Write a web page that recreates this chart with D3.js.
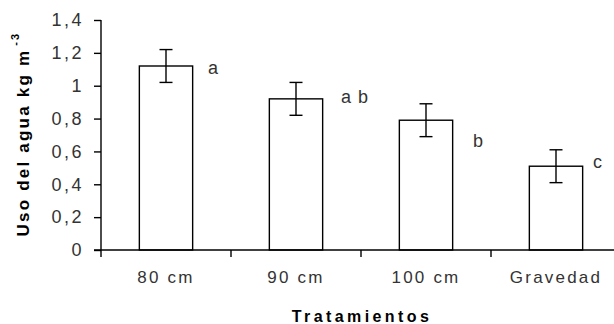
<!DOCTYPE html>
<html>
<head>
<meta charset="utf-8">
<script src="https://cdn.jsdelivr.net/npm/d3@7"></script>
<style>
  html, body { margin: 0; padding: 0; background: #fff; }
  svg { display: block; }
</style>
</head>
<body>
<svg id="chart" width="614" height="324"></svg>
<script>
// ---- data ----
const categories = ["80 cm", "90 cm", "100 cm", "Gravedad"];
const values = [1.12, 0.92, 0.79, 0.51];
const errors = [0.10, 0.10, 0.10, 0.10];
const letters = ["a", "a b", "b", "c"];
const letterLevel = [1.07, 0.895, 0.625, 0.50];
const yTicks = [0, 0.2, 0.4, 0.6, 0.8, 1, 1.2, 1.4];
const yTickLabels = ["0", "0,2", "0,4", "0,6", "0,8", "1", "1,2", "1,4"];

// ---- layout ----
const svg = d3.select("#chart");
const mLeft = 101, mRight = 621, mTop = 20, mBottom = 250;
const font = "'Liberation Sans', Arial, sans-serif";
const letterNudge = [42, 45, 47, 37];

const x = d3.scaleBand().domain(categories).range([mLeft, mRight])
  .paddingInner(0.59).paddingOuter(0.295);
const xb = d3.scaleBand().domain(categories).range([mLeft, mRight]).padding(0);
const y = d3.scaleLinear().domain([0, 1.4]).range([mBottom, mTop]);

// bars
svg.append("g").selectAll("rect").data(categories).join("rect")
  .attr("x", d => x(d))
  .attr("y", (d, i) => y(values[i]))
  .attr("width", x.bandwidth())
  .attr("height", (d, i) => y(0) - y(values[i]))
  .attr("fill", "#fff").attr("stroke", "#000").attr("stroke-width", 1.4);

// error bars
const cap = 6.5;
const eg = svg.append("g").attr("stroke", "#000").attr("stroke-width", 1.4);
categories.forEach((c, i) => {
  const cx = x(c) + x.bandwidth() / 2;
  const y1 = y(values[i] + errors[i]), y2 = y(values[i] - errors[i]);
  eg.append("line").attr("x1", cx).attr("x2", cx).attr("y1", y1).attr("y2", y2);
  eg.append("line").attr("x1", cx - cap).attr("x2", cx + cap).attr("y1", y1).attr("y2", y1);
  eg.append("line").attr("x1", cx - cap).attr("x2", cx + cap).attr("y1", y2).attr("y2", y2);
});

// y axis
const yAxis = d3.axisLeft(y).tickValues(yTicks)
  .tickFormat((d, i) => yTickLabels[i]).tickSize(7).tickPadding(10).tickSizeOuter(0);
const gy = svg.append("g").attr("transform", `translate(${mLeft},0)`).call(yAxis);
gy.select(".domain").attr("d", `M0,${mTop}H0V${mBottom + 7}`);
gy.selectAll("line, path").attr("stroke", "#000").attr("stroke-width", 1.4);
gy.selectAll("text").attr("font-family", font).attr("font-size", 18)
  .attr("fill", "#333").attr("letter-spacing", 2.5);

// x axis
const gx = svg.append("g").attr("transform", `translate(0,${mBottom})`);
gx.append("line").attr("x1", mLeft - 7).attr("x2", mRight).attr("y1", 0).attr("y2", 0)
  .attr("stroke", "#000").attr("stroke-width", 1.4);
gx.selectAll("line.tick").data(categories.slice(1)).join("line").attr("class", "tick")
  .attr("x1", d => xb(d)).attr("x2", d => xb(d)).attr("y1", 0).attr("y2", 7)
  .attr("stroke", "#000").attr("stroke-width", 1.4);
gx.selectAll("text").data(categories).join("text")
  .attr("x", d => xb(d) + xb.bandwidth() / 2).attr("y", 33)
  .attr("text-anchor", "middle")
  .attr("font-family", font).attr("font-size", 17).attr("fill", "#333")
  .attr("letter-spacing", 2.2)
  .text(d => d);

// significance letters
svg.append("g").selectAll("text").data(letters).join("text")
  .attr("x", (d, i) => x(categories[i]) + x.bandwidth() / 2 + letterNudge[i])
  .attr("y", (d, i) => y(letterLevel[i]))
  .attr("font-family", font).attr("font-size", 18).attr("fill", "#333")
  .attr("letter-spacing", 1)
  .text(d => d);

// axis titles
svg.append("text").attr("x", 362).attr("y", 322).attr("text-anchor", "middle")
  .attr("font-family", font).attr("font-size", 16).attr("font-weight", "bold")
  .attr("letter-spacing", 3.4).attr("fill", "#000")
  .text("Tratamientos");

const yt = svg.append("text")
  .attr("transform", "translate(29,134) rotate(-90)")
  .attr("text-anchor", "middle")
  .attr("font-family", font).attr("font-size", 17).attr("font-weight", "bold")
  .attr("letter-spacing", 2.2).attr("fill", "#000");
yt.append("tspan").text("Uso del agua kg m");
yt.append("tspan").attr("dy", -10).attr("dx", 3).attr("font-size", 11).text("-3");
</script>
</body>
</html>
